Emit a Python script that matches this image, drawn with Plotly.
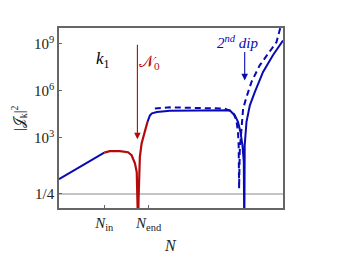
import plotly.graph_objects as go
import math

# ---- data ----
# early blue segment (before N_in)
x_pre = [0.0, 2.02]
y_pre = [2.2, 110]

# red segment (N_in -> around N_end)
x_red = [2.02, 2.27, 2.72, 3.08, 3.24, 3.39, 3.47, 3.51, 3.535, 3.55, 3.58, 3.61, 3.69, 3.83, 3.95]
y_red = [110, 135, 135, 115, 74, 23, 6.3, 0.44, 0.001, 0.1, 8.1, 58, 440, 2950, 1.0e4]

# blue solid after N_end
x_blue = [3.95, 4.06, 4.15, 4.37, 4.95, 6.29, 7.62, 7.85, 7.99, 8.10, 8.19, 8.25, 8.26, 8.27,
          8.28, 8.29, 8.37, 8.52, 8.74, 9.11, 9.55, 10.0]
y_blue = [1.0e4, 2.6e4, 3.5e4, 4.3e4, 5.1e4, 5.5e4, 5.5e4, 2.6e4, 1.0e4, 2300, 320, 28, 0.1, 0.001,
          0.1, 320, 1.0e4, 1.15e5, 8.1e5, 1.55e7, 1.8e8, 1.6e9]

# blue dashed
x_dash = [4.28, 4.95, 7.40, 7.77, 7.92, 7.99, 8.02, 8.04, 8.07, 8.15, 8.22, 8.37, 8.59, 8.96,
          9.33, 9.71, 9.85, 9.92]
y_dash = [7.1e4, 8.5e4, 7.1e4, 4.3e4, 1.26e4, 2300, 320, 0.55, 155, 6000, 7.1e4, 3.9e5, 3.5e6,
          4.1e7, 2.4e8, 1.26e9, 7.1e9, 1.5e10]

y_tickvals = [0.25, 1e3, 1e6, 1e9]
y_ticktext = ["1/4", "10<sup>3</sup>", "10<sup>6</sup>", "10<sup>9</sup>"]
x_tickvals = [2.02, 4.0]
x_ticktext = ["<i>N</i><sub>in</sub>", "<i>N</i><sub>end</sub>"]
quarter = 0.25
N0 = 3.5
dip2 = 8.29

BLUE = "#0a0ab4"
RED = "#b40a0a"
FONT = "Liberation Serif"

ML, MR, MT, MB = 59, 54, 28, 47
W, H = 337, 255
pw, ph = W - ML - MR, H - MT - MB

fig = go.Figure()
fig.add_trace(go.Scatter(x=[0, 10], y=[quarter, quarter], mode="lines",
                         line=dict(color="#b0b0b0", width=1.6), showlegend=False))
fig.add_trace(go.Scatter(x=x_dash, y=y_dash, mode="lines",
                         line=dict(color=BLUE, width=2, dash="6px,4px"), showlegend=False))
fig.add_trace(go.Scatter(x=x_pre, y=y_pre, mode="lines",
                         line=dict(color=BLUE, width=2), showlegend=False))
fig.add_trace(go.Scatter(x=x_blue, y=y_blue, mode="lines",
                         line=dict(color=BLUE, width=2), showlegend=False))
fig.add_trace(go.Scatter(x=x_red, y=y_red, mode="lines",
                         line=dict(color=RED, width=2.2), showlegend=False))

fig.update_layout(
    width=W, height=H,
    margin=dict(l=ML, r=MR, t=MT, b=MB, autoexpand=False),
    paper_bgcolor="white", plot_bgcolor="white",
    font=dict(family=FONT, size=14, color="#222"),
    xaxis=dict(range=[0, 10], showgrid=False, zeroline=False, showline=True, mirror=True,
               linecolor="#666", linewidth=1.5, ticks="inside", ticklen=3, tickcolor="#666",
               tickvals=x_tickvals, ticktext=x_ticktext, tickfont=dict(size=15, family=FONT),
               automargin=False),
    yaxis=dict(type="log", range=[-1.5, 10], showgrid=False, zeroline=False, showline=True,
               mirror=True, linecolor="#666", linewidth=1.5, ticks="inside", ticklen=3,
               tickcolor="#666", tickvals=y_tickvals, ticktext=y_ticktext,
               tickfont=dict(size=15, family=FONT), automargin=False),
)

fig.add_annotation(x=N0, y=math.log10(780), xref="x", yref="y", text="", showarrow=True,
                   ax=0, ay=-96, arrowcolor=RED, arrowwidth=1.1, arrowhead=2, arrowsize=1.2)
fig.add_annotation(x=dip2, y=math.log10(4.5e6), xref="x", yref="y", text="", showarrow=True,
                   ax=0, ay=-30, arrowcolor=BLUE, arrowwidth=1.1, arrowhead=2, arrowsize=1.2)

fig.add_annotation(x=1.96, y=7.93, xref="x", yref="y", text="<i>k</i><sub>1</sub>",
                   showarrow=False, font=dict(size=17, color="black", family=FONT))
fig.add_annotation(x=4.06, y=7.8, xref="x", yref="y", text="𝒩<sub>0</sub>",
                   showarrow=False, font=dict(size=16, color=RED, family=FONT))
fig.add_annotation(x=7.98, y=9.1, xref="x", yref="y", text="<i>2<sup>nd</sup> dip</i>",
                   showarrow=False, font=dict(size=15, color=BLUE, family=FONT))

fig.add_annotation(x=(19 - ML) / pw, y=(H - MB - 118) / ph, xref="paper", yref="paper",
                   xanchor="center", yanchor="middle",
                   text="|𝒥<sub>k</sub>|<sup>2</sup>",
                   showarrow=False, textangle=-90, font=dict(size=14, family=FONT))
fig.add_annotation(x=(170 - ML) / pw, y=(H - MB - 246) / ph, xref="paper", yref="paper",
                   xanchor="center", yanchor="middle",
                   text="<i>N</i>", showarrow=False, font=dict(size=16, family=FONT))

fig.write_html("out.html", config={"displayModeBar": False},
               post_script="document.body.style.margin='0';document.body.style.padding='0';")
